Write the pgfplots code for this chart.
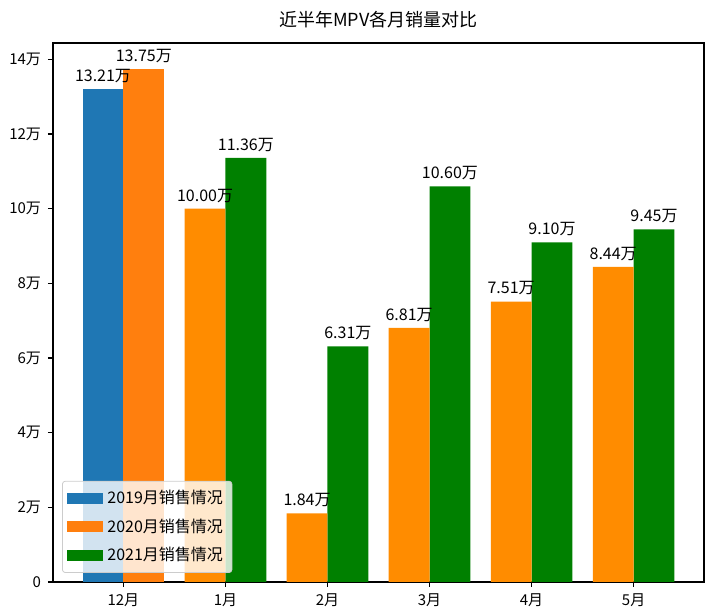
\documentclass[border=0pt]{standalone}
\usepackage{pgfplots}
\pgfplotsset{compat=1.18}
\usepackage{fontspec}
\setmainfont{Noto Sans CJK SC}
\usetikzlibrary{calc}
\definecolor{mplblue}{HTML}{1F77B4}
\definecolor{mplorange}{HTML}{FF7F0E}
\definecolor{darkorange}{HTML}{FF8C00}
\definecolor{mplgreen}{HTML}{008000}

\pgfplotsset{
  rectlegend/.style={legend image code/.code={
    \fill[##1, fill opacity=1, sharp corners] (0pt,-2.75pt) rectangle (18pt,2.75pt);}},
}

\begin{document}
\begin{tikzpicture}
\begin{axis}[
  scale only axis, width=325.5pt, height=269.5pt,
  xmin=-0.69, xmax=5.69, ymin=0, ymax=14.44,
  xtick={0,...,5}, xticklabels={12月,1月,2月,3月,4月,5月},
  ytick={0,2,...,14}, yticklabels={0,2万,4万,6万,8万,10万,12万,14万},
  tick align=outside, tick pos=left, major tick length=2.5pt,
  tick label style={font=\fontsize{7.5}{9}\selectfont},
  title={近半年MPV各月销量对比},
  title style={font=\fontsize{9}{11}\selectfont, yshift=-2pt},
  axis line style={line width=0.6pt},
  every tick/.style={black, line width=0.6pt},
  ybar, bar width=0.4,
  nodes near coords={\pgfmathprintnumber[fixed,fixed zerofill,precision=2,assume math mode=true]{\pgfplotspointmeta}万},
  every node near coord/.append style={font=\fontsize{8}{9.5}\selectfont, anchor=south, inner sep=0pt, yshift=3pt, black},
  legend style={at={(0,0)}, anchor=south west, xshift=4.5pt, yshift=4.5pt,
    draw=black!20, rounded corners=1.5pt, fill=white, fill opacity=0.8, text opacity=1,
    font=\fontsize{8}{9.5}\selectfont, inner sep=2.5pt, row sep=2pt,
    /tikz/every even column/.append style={column sep=1pt}},
  legend cell align=left,
]
\addplot[fill=mplblue, draw=none, bar shift=0pt, rectlegend] coordinates {(-0.2,13.21)};
\addplot[fill=mplorange, draw=none, bar shift=0pt, rectlegend] coordinates {(0.2,13.75)};
\addplot[fill=mplgreen, draw=none, bar shift=0pt, rectlegend] coordinates {
  (1.2,11.36) (2.2,6.31) (3.2,10.60) (4.2,9.10) (5.2,9.45)};
\addplot[fill=darkorange, draw=none, bar shift=0pt, forget plot] coordinates {
  (0.8,10.00) (1.8,1.84) (2.8,6.81) (3.8,7.51) (4.8,8.44)};
\legend{2019月销售情况,2020月销售情况,2021月销售情况}
\coordinate (sw) at (rel axis cs:0,0);
\coordinate (ne) at (rel axis cs:1,1);
\end{axis}
\pgfresetboundingbox
\path[use as bounding box] ($(sw)+(-26.5pt,-16pt)$) rectangle ($(ne)+(4pt,21.5pt)$);
\end{tikzpicture}
\end{document}
